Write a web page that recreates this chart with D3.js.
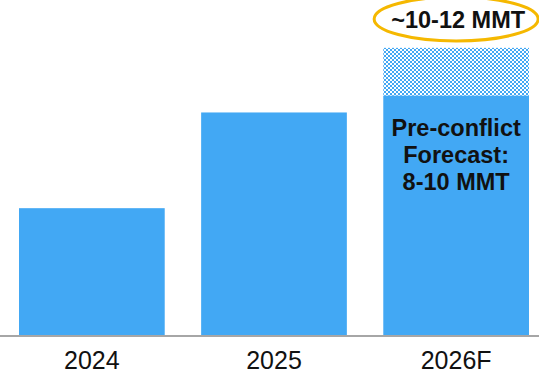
<!DOCTYPE html>
<html>
<head>
<meta charset="utf-8">
<script src="https://cdn.jsdelivr.net/npm/d3@7"></script>
<style>
  html, body { margin: 0; padding: 0; background: #fff; }
  svg { display: block; font-family: "Liberation Sans", Arial, sans-serif; }
</style>
</head>
<body>
<svg id="chart" width="539" height="375"></svg>
<script>
// Annual volumes (MMT) by year
const categories = ["2024", "2025", "2026F"];
const baseValues = [5.3, 9.3, 10];      // solid bars
const upsideValues = [0, 0, 12];        // top of the hatched upside range
const innerLabel = ["Pre-conflict", "Forecast:", "8-10 MMT"];
const upsideLabel = "~10-12 MMT";

const width = 539, height = 375;
const axisY = 335;
const barColor = "#42a8f4";

const svg = d3.select("#chart");

const x = d3.scaleBand()
  .domain(categories)
  .range([19, 529])
  .paddingInner(0.2)
  .paddingOuter(0);

const y = d3.scaleLinear()
  .domain([0, 14])
  .range([axisY, 0]);

// checkerboard fill for the upside band
const defs = svg.append("defs");
const pat = defs.append("pattern")
  .attr("id", "checker")
  .attr("patternUnits", "userSpaceOnUse")
  .attr("width", 4).attr("height", 4)
  .attr("x", 384).attr("y", 47);
pat.append("rect").attr("width", 4).attr("height", 4).attr("fill", "#fff");
pat.append("rect").attr("x", 0).attr("y", 0).attr("width", 2).attr("height", 2).attr("fill", barColor);
pat.append("rect").attr("x", 2).attr("y", 2).attr("width", 2).attr("height", 2).attr("fill", barColor);

const rows = categories.map((c, i) => ({ cat: c, base: baseValues[i], upside: upsideValues[i] }));

// hatched upside segment
svg.selectAll("rect.upside")
  .data(rows.filter(d => d.upside > d.base))
  .join("rect")
  .attr("class", "upside")
  .attr("x", d => x(d.cat))
  .attr("width", x.bandwidth())
  .attr("y", d => y(d.upside))
  .attr("height", d => y(d.base) - y(d.upside))
  .attr("fill", "url(#checker)");

// solid bars
svg.selectAll("rect.bar")
  .data(rows)
  .join("rect")
  .attr("class", "bar")
  .attr("x", d => x(d.cat))
  .attr("width", x.bandwidth())
  .attr("y", d => y(d.base))
  .attr("height", d => y(0) - y(d.base))
  .attr("fill", barColor);

// baseline
svg.append("line")
  .attr("x1", 0).attr("x2", width)
  .attr("y1", axisY + 1).attr("y2", axisY + 1)
  .attr("stroke", "#a6a6a6")
  .attr("stroke-width", 2);

// category labels
const xAxis = d3.axisBottom(x).tickSize(0).tickPadding(0);
const gx = svg.append("g")
  .attr("transform", `translate(0,${axisY})`)
  .call(xAxis);
gx.select(".domain").remove();
gx.selectAll("text")
  .attr("dy", null)
  .attr("y", 34)
  .attr("font-size", 25)
  .attr("font-family", "Liberation Sans, Arial, sans-serif")
  .attr("fill", "#111");

// label inside the forecast bar
const last = rows[2];
const cx = x(last.cat) + x.bandwidth() / 2;
const inner = svg.append("text")
  .attr("text-anchor", "middle")
  .attr("font-weight", "bold")
  .attr("font-size", 23.5)
  .attr("fill", "#111");
innerLabel.forEach((t, i) => {
  inner.append("tspan")
    .attr("x", cx)
    .attr("y", 136 + i * 27)
    .text(t);
});

// circled upside label
svg.append("ellipse")
  .attr("cx", cx)
  .attr("cy", 19)
  .attr("rx", 82)
  .attr("ry", 22)
  .attr("fill", "none")
  .attr("stroke", "#f5b800")
  .attr("stroke-width", 3);

svg.append("text")
  .attr("x", cx + 2)
  .attr("y", 28)
  .attr("text-anchor", "middle")
  .attr("font-weight", "bold")
  .attr("font-size", 23.5)
  .attr("fill", "#111")
  .text(upsideLabel);
</script>
</body>
</html>
